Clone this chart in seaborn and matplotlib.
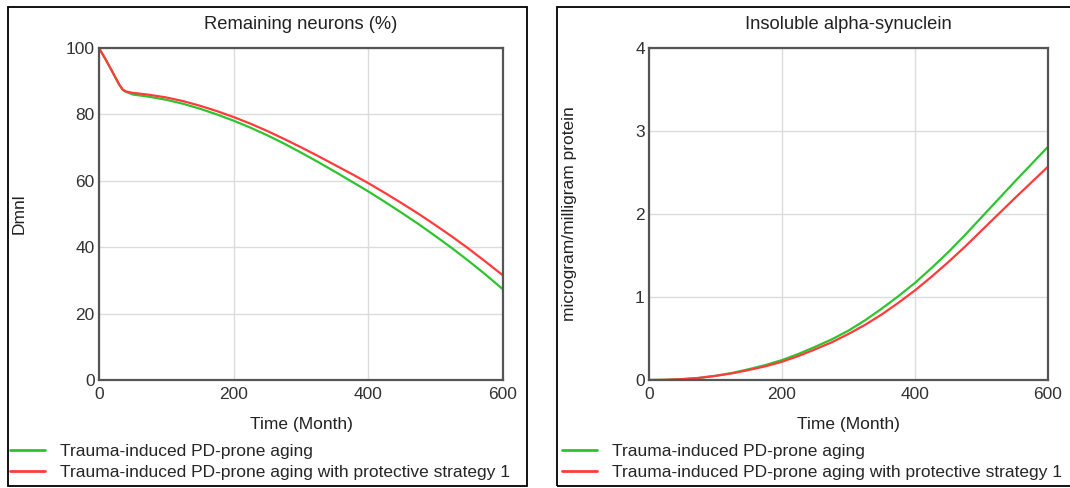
import pandas as pd
import seaborn as sns
import matplotlib.pyplot as plt
from matplotlib.patches import Rectangle

# values
neuron_months = [0, 10, 20, 30, 35, 40, 50, 75, 100, 125, 150, 175, 200, 225, 250, 275, 300,
                 325, 350, 375, 400, 425, 450, 475, 500, 525, 550, 575, 600]
neurons_aging = [100, 96.5, 92.8, 89.0, 87.5, 86.8, 86.0, 85.3, 84.4, 83.2, 81.7, 80.0, 78.1,
                 76.0, 73.7, 71.2, 68.5, 65.7, 62.8, 59.8, 56.8, 53.6, 50.3, 46.9, 43.3,
                 39.6, 35.7, 31.6, 27.3]
neurons_strategy = [100, 96.5, 92.8, 89.0, 87.5, 86.9, 86.5, 85.9, 85.1, 84.0, 82.6, 81.0, 79.2,
                    77.2, 75.0, 72.6, 70.1, 67.5, 64.8, 62.1, 59.3, 56.3, 53.2, 50.0, 46.6,
                    43.1, 39.4, 35.5, 31.5]

syn_months = list(range(0, 601, 25))
syn_aging = [0, 0.002, 0.01, 0.025, 0.05, 0.085, 0.13, 0.18, 0.24, 0.315, 0.40, 0.49, 0.595,
             0.72, 0.86, 1.01, 1.17, 1.35, 1.54, 1.745, 1.96, 2.175, 2.39, 2.60, 2.81]
syn_strategy = [0, 0.002, 0.01, 0.025, 0.05, 0.08, 0.12, 0.165, 0.22, 0.29, 0.37, 0.455, 0.555,
                0.665, 0.79, 0.93, 1.08, 1.245, 1.42, 1.605, 1.80, 1.995, 2.19, 2.38, 2.57]

series_names = ['Trauma-induced PD-prone aging',
                'Trauma-induced PD-prone aging with protective strategy 1']
palette = {series_names[0]: '#2ec42e', series_names[1]: '#ff3b3b'}


def to_frame(months, first, second):
    return pd.DataFrame({
        'Time': months * 2,
        'Value': first + second,
        'Run': [series_names[0]] * len(months) + [series_names[1]] * len(months),
    })


neurons = to_frame(neuron_months, neurons_aging, neurons_strategy)
synuclein = to_frame(syn_months, syn_aging, syn_strategy)

sns.set_style('whitegrid')
plt.rcParams['font.family'] = ['Liberation Sans', 'DejaVu Sans']

W, H = 1070, 488
fig = plt.figure(figsize=(W / 100, H / 100), dpi=100)

# panel frames
for x0, x1 in [(8, 527), (557, 1075)]:
    fig.patches.append(Rectangle((x0 / W, 1 - 486 / H), (x1 - x0) / W, (486 - 7) / H,
                                 transform=fig.transFigure, fill=False,
                                 edgecolor='black', linewidth=1.3))

panels = [
    (neurons, [99, 503], 100, [0, 20, 40, 60, 80, 100], 'Remaining neurons (%)', 'Dmnl', 10),
    (synuclein, [649, 1048], 4, [0, 1, 2, 3, 4], 'Insoluble alpha-synuclein',
     'microgram/milligram protein', 562),
]

for data, (px0, px1), ymax, yticks, title, ylabel, leg_x in panels:
    ax = fig.add_axes([px0 / W, 1 - 380 / H, (px1 - px0) / W, 332 / H])
    sns.lineplot(data=data, x='Time', y='Value', hue='Run', palette=palette,
                 linewidth=1.6, ax=ax, legend=False)
    ax.set_xlim(0, 600)
    ax.set_ylim(0, ymax)
    ax.set_xticks([0, 200, 400, 600])
    ax.set_yticks(yticks)
    ax.grid(True, color='#dcdcdc', linewidth=1)
    for sp in ax.spines.values():
        sp.set_color('#555555')
        sp.set_linewidth(1.6)
    ax.tick_params(axis='both', length=0, labelsize=12.5, colors='#333333')
    ax.tick_params(axis='x', pad=5)
    ax.tick_params(axis='y', pad=3)
    ax.set_title(title, fontsize=13.2, pad=14, color='#222222')
    ax.set_xlabel('Time (Month)', fontsize=12.5, labelpad=11, color='#222222')
    ax.set_ylabel(ylabel, fontsize=12.5, color='#222222')
    ax.yaxis.set_label_coords(-0.18, 0.5)

    handles = [plt.Line2D([], [], color=palette[n], linewidth=2) for n in series_names]
    fig.legend(handles, series_names, loc='upper left',
               bbox_to_anchor=(leg_x / W, 1 - 444 / H), frameon=False,
               fontsize=12.5, handlelength=2.0, handletextpad=0.9,
               labelspacing=0.32, borderaxespad=0, borderpad=0)

fig.savefig('out.png', dpi=100)
